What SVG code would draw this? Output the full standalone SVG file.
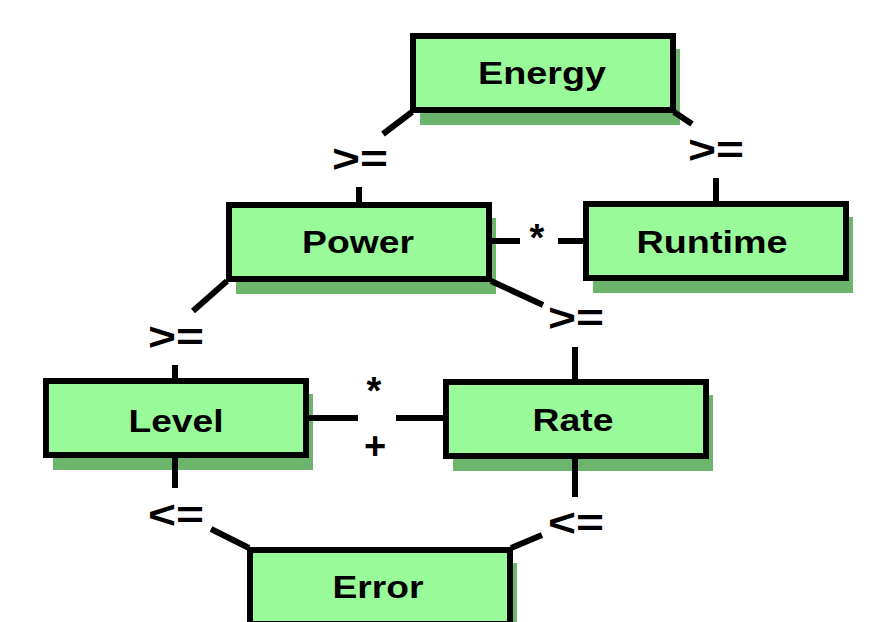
<svg xmlns="http://www.w3.org/2000/svg" width="884" height="622" viewBox="0 0 884 622">
<style>
.shadow{fill:#6db56d}
.box{fill:#98fa98;stroke:#000;stroke-width:6}
.t{font-family:"Liberation Sans",Arial,sans-serif;font-weight:bold;font-size:31px;fill:#000;text-anchor:middle}
.lb{font-family:"Liberation Sans",Arial,sans-serif;font-weight:bold;font-size:38px;fill:#000;text-anchor:middle}
.c line{stroke:#000;stroke-width:6}
</style>
<rect width="884" height="622" fill="#fff"/>
<g id="energy"><rect class="shadow" x="420" y="49" width="260" height="76"/><rect class="box" x="413" y="36" width="260" height="74"/><text class="t" x="542" y="84" textLength="128" lengthAdjust="spacingAndGlyphs">Energy</text></g>
<g id="power"><rect class="shadow" x="236" y="218" width="260" height="76"/><rect class="box" x="229" y="205" width="260" height="74"/><text class="t" x="358" y="253" textLength="112" lengthAdjust="spacingAndGlyphs">Power</text></g>
<g id="runtime"><rect class="shadow" x="593" y="217" width="260" height="76"/><rect class="box" x="586" y="204" width="260" height="74"/><text class="t" x="712" y="253" textLength="151" lengthAdjust="spacingAndGlyphs">Runtime</text></g>
<g id="level"><rect class="shadow" x="53" y="394" width="260" height="76"/><rect class="box" x="46" y="381" width="260" height="74"/><text class="t" x="176" y="432" textLength="95" lengthAdjust="spacingAndGlyphs">Level</text></g>
<g id="rate"><rect class="shadow" x="453" y="395" width="260" height="76"/><rect class="box" x="446" y="382" width="260" height="74"/><text class="t" x="573" y="431" textLength="81" lengthAdjust="spacingAndGlyphs">Rate</text></g>
<g id="error"><rect class="shadow" x="257" y="563" width="260" height="76"/><rect class="box" x="250" y="550" width="260" height="74"/><text class="t" x="378" y="598" textLength="91" lengthAdjust="spacingAndGlyphs">Error</text></g>
<g id="connectors" class="c">
<line x1="412" y1="112" x2="383" y2="134"/>
<line x1="359" y1="187" x2="359" y2="202"/>
<line x1="674" y1="112" x2="692" y2="124"/>
<line x1="716" y1="178" x2="716" y2="201"/>
<line x1="492" y1="241" x2="520" y2="241"/>
<line x1="558" y1="241" x2="583" y2="241"/>
<line x1="227" y1="281" x2="193" y2="311"/>
<line x1="175" y1="365" x2="175" y2="378"/>
<line x1="491" y1="281" x2="543" y2="305"/>
<line x1="575" y1="347" x2="575" y2="379"/>
<line x1="308" y1="418" x2="358" y2="418"/>
<line x1="396" y1="418" x2="443" y2="418"/>
<line x1="175" y1="458" x2="175" y2="488"/>
<line x1="211" y1="529" x2="249" y2="548"/>
<line x1="575" y1="459" x2="575" y2="497"/>
<line x1="542" y1="535" x2="511" y2="548"/>
<text class="lb" x="360" y="172" textLength="56" lengthAdjust="spacingAndGlyphs">&gt;=</text>
<text class="lb" x="716" y="163" textLength="56" lengthAdjust="spacingAndGlyphs">&gt;=</text>
<text class="lb" x="176" y="350" textLength="56" lengthAdjust="spacingAndGlyphs">&gt;=</text>
<text class="lb" x="576" y="331" textLength="56" lengthAdjust="spacingAndGlyphs">&gt;=</text>
<text class="lb" x="176" y="528" textLength="56" lengthAdjust="spacingAndGlyphs">&lt;=</text>
<text class="lb" x="576" y="536" textLength="56" lengthAdjust="spacingAndGlyphs">&lt;=</text>
<text class="lb" x="537" y="251">*</text>
<text class="lb" x="374" y="404">*</text>
<text class="lb" x="375" y="459">+</text>
</g>
</svg>
